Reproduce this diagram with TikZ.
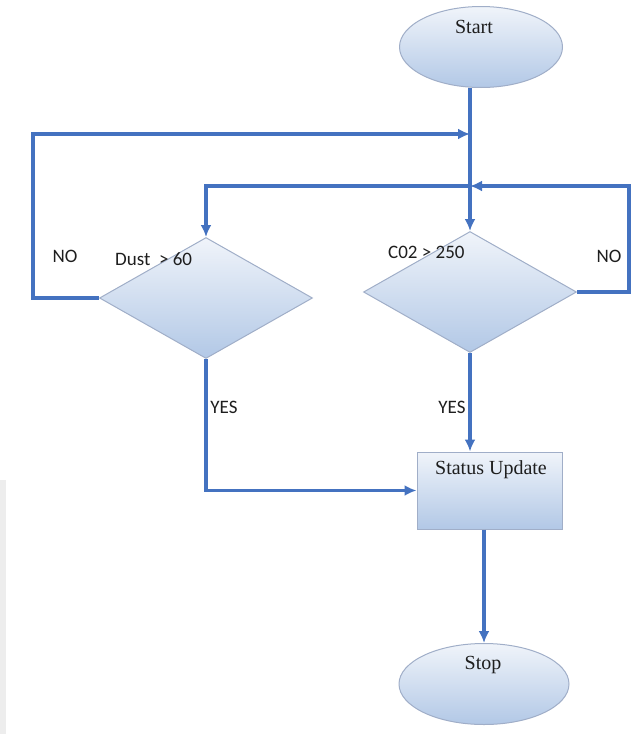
\documentclass[tikz,border=0pt]{standalone}
\usepackage{fontspec}
\setmainfont{Liberation Serif}
\newfontfamily\calibri{Carlito}
\usetikzlibrary{arrows.meta,shapes.geometric,calc}

\definecolor{flowline}{RGB}{68,114,192}
\definecolor{shapeedge}{RGB}{160,174,200}
\definecolor{shadetop}{RGB}{240,244,250}
\definecolor{shadebot}{RGB}{178,200,230}
\definecolor{labelgray}{RGB}{30,30,30}

\begin{document}
\begin{tikzpicture}[x=1pt, y=-1pt,
    term/.style={ellipse, draw=shapeedge, line width=1pt, top color=shadetop,
                 bottom color=shadebot, minimum width=163pt, minimum height=81pt, inner sep=0pt},
    cond/.style={diamond, draw=shapeedge, line width=1pt, top color=shadetop,
                 bottom color=shadebot, minimum width=213pt, minimum height=121pt, inner sep=0pt},
    proc/.style={rectangle, draw=shapeedge, line width=1pt, top color=shadetop,
                 bottom color=shadebot, minimum width=145pt, minimum height=77pt, inner sep=0pt},
    boxtext/.style={font=\fontsize{20}{24}\selectfont, text=labelgray, inner sep=0pt},
    lbl/.style={font=\calibri\fontsize{19}{22}\selectfont, text=labelgray, inner sep=0pt},
    line/.style={draw=flowline, line width=3.6pt, -{Latex[length=12pt,width=11pt]}}]
    \useasboundingbox (0,0) rectangle (631,734);
    \fill[gray!14] (0,480) rectangle (6,734);

    % shapes
    \node[term] (start) at (481,47) {};
    \node[boxtext] (starttxt) at (474,27) {Start};
    \node[cond] (dust) at (206,298) {};
    \node[cond] (co2) at (470,292) {};
    \node[proc] (upd) at (489.5,490.5) {};
    \node[boxtext] (updtxt) at (491,470) {Status Update};
    \node[term, minimum width=170pt] (stop) at (484,684) {};
    \node[boxtext] (stoptxt) at (483,665) {Stop};

    % labels
    \node[lbl, anchor=west] (dustlbl) at (115,259) {Dust~ > 60};
    \node[lbl, anchor=west] (co2lbl) at (388,252) {C02 > 250};
    \node[lbl] (noleft) at (65,256) {NO};
    \node[lbl] (noright) at (609,256) {NO};
    \node[lbl] (yesleft) at (224,407) {YES};
    \node[lbl] (yesright) at (452,407) {YES};

    % connectors
    \coordinate (lt) at (33,134);
    \coordinate (rt) at (629,186);
    \draw[line] (start.south -| co2.north) -- (co2.north);
    \draw[line] (dust.west) -- (dust.west -| lt) -- (lt) -- (lt -| co2.north);
    \draw[line] (co2.east) -- (co2.east -| rt) -- (rt) -- (rt -| co2.north);
    \draw[line] (rt -| co2.north) -| (dust.north);
    \draw[line] (dust.south) |- (upd.west);
    \draw[line] (co2.south) -- (upd.north -| co2.south);
    \draw[line] (upd.south -| stop.north) -- (stop.north);
\end{tikzpicture}
\end{document}
